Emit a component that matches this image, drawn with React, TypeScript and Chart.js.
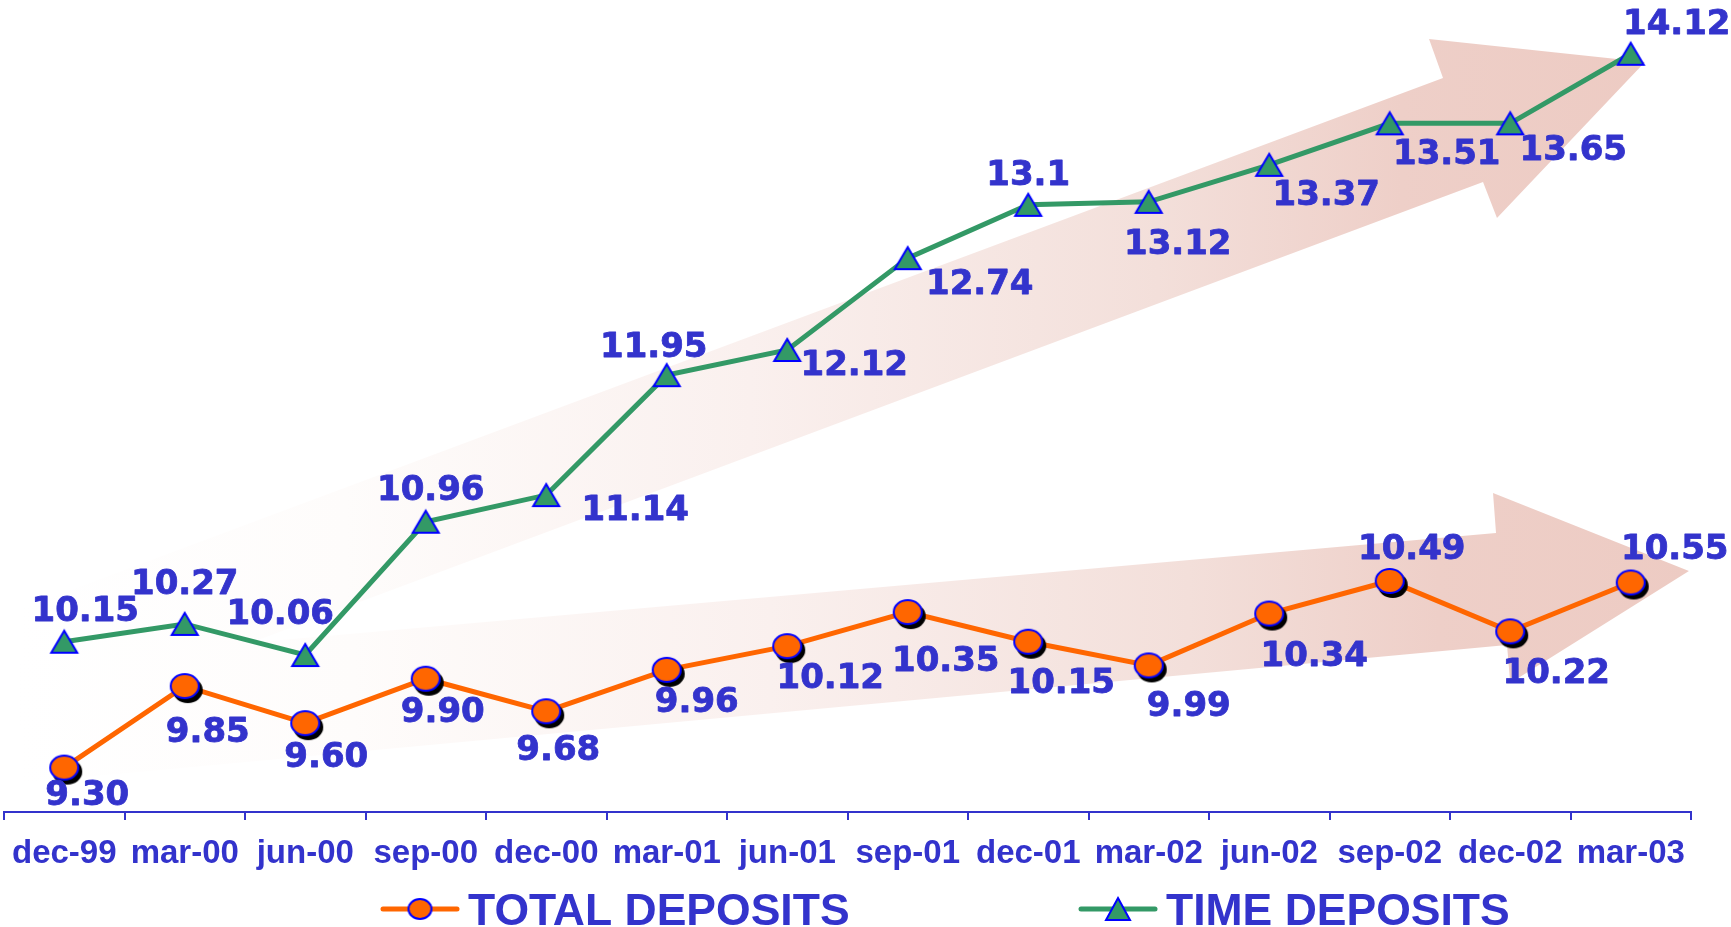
import { useEffect, useRef } from "react";
import { Chart, registerables } from "chart.js";

Chart.register(...registerables);

// ---------- data ----------
const categories = [
  "dec-99", "mar-00", "jun-00", "sep-00", "dec-00", "mar-01", "jun-01",
  "sep-01", "dec-01", "mar-02", "jun-02", "sep-02", "dec-02", "mar-03",
];
const totalDeposits = [9.3, 9.85, 9.6, 9.9, 9.68, 9.96, 10.12, 10.35, 10.15, 9.99, 10.34, 10.56, 10.22, 10.55];
const timeDeposits = [10.15, 10.27, 10.06, 10.96, 11.14, 11.95, 12.12, 12.74, 13.1, 13.12, 13.37, 13.65, 13.65, 14.12];
const totalLabels = ["9.30", "9.85", "9.60", "9.90", "9.68", "9.96", "10.12", "10.35", "10.15", "9.99", "10.34", "10.49", "10.22", "10.55"];
const timeLabels = ["10.15", "10.27", "10.06", "10.96", "11.14", "11.95", "12.12", "12.74", "13.1", "13.12", "13.37", "13.51", "13.65", "14.12"];
const seriesNames = ["TOTAL DEPOSITS", "TIME DEPOSITS"];

// ---------- label placement (px offsets from point) ----------
const totalLabelOffsets: [number, number][] = [
  [23, 25], [23, 43], [21, 31], [17, 31], [12, 36], [30, 30], [43, 29],
  [38, 47], [33, 39], [40, 38], [45, 40], [22, -34], [46, 39], [44, -36],
];
const timeLabelOffsets: [number, number][] = [
  [21, -33], [0, -42], [-25, -43], [5, -34], [89, 13], [-13, -31], [67, 13],
  [72, 23], [0, -32], [29, 40], [57, 28], [57, 28], [63, 24], [46, -32],
];

// ---------- decorative arrows in (category index, value) ----------
const upperArrow: [number, number][] = [
  [-0.367, 10.371], [11.442, 13.956], [11.326, 14.219], [13.118, 14.064],
  [11.89, 13.011], [11.774, 13.254], [-0.367, 9.56],
];
const lowerArrow: [number, number][] = [
  [-0.367, 10.006], [11.882, 10.884], [11.857, 11.154], [13.483, 10.627],
  [12.0, 9.871], [11.973, 10.128], [-0.367, 9.196],
];

const BLUE_TEXT = "#3333cc";
const ORANGE = "#ff6600";
const GREEN = "#339966";
const MARKER_EDGE = "#0000ff";

function makeEllipse(rx: number, ry: number, shadow: boolean) {
  const pad = 2;
  const sx = shadow ? 3 : 0;
  const sy = shadow ? 4 : 0;
  const w = Math.ceil(2 * (rx + sx + pad));
  const h = Math.ceil(2 * (ry + sy + pad));
  const c = document.createElement("canvas");
  c.width = w;
  c.height = h;
  const g = c.getContext("2d")!;
  const cx = w / 2;
  const cy = h / 2;
  if (shadow) {
    g.fillStyle = "#000";
    g.beginPath();
    g.ellipse(cx + sx, cy + sy, rx + 1, ry + 1, 0, 0, Math.PI * 2);
    g.fill();
  }
  g.fillStyle = ORANGE;
  g.beginPath();
  g.ellipse(cx, cy, rx, ry, 0, 0, Math.PI * 2);
  g.fill();
  g.lineWidth = 2;
  g.strokeStyle = MARKER_EDGE;
  g.stroke();
  return c;
}

function makeTriangle(hw: number, up: number, down: number) {
  const pad = 4;
  const w = Math.ceil(2 * (hw + pad));
  const h = Math.ceil(2 * (Math.max(up, down) + pad));
  const c = document.createElement("canvas");
  c.width = w;
  c.height = h;
  const g = c.getContext("2d")!;
  const cx = w / 2;
  const cy = h / 2;
  g.beginPath();
  g.moveTo(cx, cy - up);
  g.lineTo(cx + hw, cy + down);
  g.lineTo(cx - hw, cy + down);
  g.closePath();
  g.fillStyle = GREEN;
  g.fill();
  g.lineWidth = 2;
  g.strokeStyle = MARKER_EDGE;
  g.stroke();
  return c;
}

const arrowPlugin = {
  id: "bgArrows",
  beforeDatasetsDraw(chart: any) {
    const { ctx, scales } = chart;
    const xs = scales.x;
    const ys = scales.y;
    const drawArrow = (pts: [number, number][]) => {
      const px = pts.map(([i, v]) => [xs.getPixelForValue(i), ys.getPixelForValue(v)]);
      const minX = Math.min(...px.map((p) => p[0]));
      const maxX = Math.max(...px.map((p) => p[0]));
      const grad = ctx.createLinearGradient(minX, 0, maxX, 0);
      grad.addColorStop(0, "rgba(255,255,255,1)");
      grad.addColorStop(0.2, "#fefcfb");
      grad.addColorStop(0.45, "#faf0ee");
      grad.addColorStop(0.7, "#f3dfda");
      grad.addColorStop(0.85, "#eecfc8");
      grad.addColorStop(1, "#edcbc3");
      ctx.save();
      ctx.beginPath();
      px.forEach(([x, y], k) => (k === 0 ? ctx.moveTo(x, y) : ctx.lineTo(x, y)));
      ctx.closePath();
      ctx.fillStyle = grad;
      ctx.fill();
      ctx.restore();
    };
    drawArrow(upperArrow);
    drawArrow(lowerArrow);
  },
};

const labelPlugin = {
  id: "valueLabels",
  afterDatasetsDraw(chart: any) {
    const { ctx } = chart;
    const sets = [
      { labels: totalLabels, offsets: totalLabelOffsets },
      { labels: timeLabels, offsets: timeLabelOffsets },
    ];
    ctx.save();
    ctx.font = "bold 34px 'DejaVu Sans'";
    ctx.fillStyle = BLUE_TEXT;
    ctx.strokeStyle = BLUE_TEXT;
    ctx.lineWidth = 0.8;
    ctx.lineJoin = "round";
    ctx.textAlign = "center";
    ctx.textBaseline = "alphabetic";
    sets.forEach((s, di) => {
      const meta = chart.getDatasetMeta(di);
      meta.data.forEach((pt: any, i: number) => {
        const { x, y } = pt.getProps(["x", "y"], true);
        const [dx, dy] = s.offsets[i];
        ctx.fillText(s.labels[i], x + dx, y + dy + 12.4);
        ctx.strokeText(s.labels[i], x + dx, y + dy + 12.4);
      });
    });
    ctx.restore();
  },
};

let legendCircle: HTMLCanvasElement | null = null;
let legendTri: HTMLCanvasElement | null = null;
const legendItemX = [381, 1079];

const legendPlugin = {
  id: "customLegend",
  afterDraw(chart: any) {
    const { ctx } = chart;
    const items = [
      { text: seriesNames[0], color: ORANGE, marker: legendCircle },
      { text: seriesNames[1], color: GREEN, marker: legendTri },
    ];
    const lineY = 909;
    const baseY = 925;
    ctx.save();
    ctx.font = "bold 44.5px 'Liberation Sans'";
    ctx.textBaseline = "alphabetic";
    ctx.textAlign = "left";
    items.forEach((it, k) => {
      const x = legendItemX[k];
      ctx.strokeStyle = it.color;
      ctx.lineWidth = 5;
      ctx.lineCap = "round";
      ctx.beginPath();
      ctx.moveTo(x + 2, lineY);
      ctx.lineTo(x + 76, lineY);
      ctx.stroke();
      if (it.marker) {
        ctx.drawImage(it.marker, x + 39 - it.marker.width / 2, lineY - it.marker.height / 2);
      }
      ctx.fillStyle = BLUE_TEXT;
      ctx.fillText(it.text, x + 87, baseY);
    });
    ctx.restore();
  },
};

export default function App() {
  const ref = useRef<HTMLCanvasElement | null>(null);

  useEffect(() => {
    if (!ref.current) return;
    const circleImg = makeEllipse(14, 12, true);
    const triImg = makeTriangle(13, 11, 11);
    legendCircle = makeEllipse(11.5, 10, false);
    legendTri = makeTriangle(12, 11, 11);

    const chart = new Chart(ref.current, {
      type: "line",
      data: {
        labels: categories,
        datasets: [
          {
            label: seriesNames[0],
            data: totalDeposits,
            borderColor: ORANGE,
            backgroundColor: ORANGE,
            borderWidth: 5,
            pointStyle: circleImg as any,
            pointRadius: 12,
            pointHoverRadius: 12,
            tension: 0,
            fill: false,
            clip: false as any,
          },
          {
            label: seriesNames[1],
            data: timeDeposits,
            borderColor: GREEN,
            backgroundColor: GREEN,
            borderWidth: 5,
            pointStyle: triImg as any,
            pointRadius: 12,
            pointHoverRadius: 12,
            tension: 0,
            fill: false,
            clip: false as any,
          },
        ],
      },
      options: {
        responsive: false,
        animation: false,
        events: [],
        layout: { autoPadding: false, padding: { left: 4, right: 40, top: 12.3, bottom: 39.4 } },
        plugins: {
          legend: { display: false },
          tooltip: { enabled: false },
        },
        scales: {
          x: {
            offset: true,
            afterFit: (scale: any) => {
              scale.paddingLeft = 0;
              scale.paddingRight = 0;
            },
            grid: {
              offset: true,
              drawOnChartArea: false,
              drawTicks: true,
              tickLength: 8,
              color: BLUE_TEXT,
              lineWidth: 2,
            },
            border: { display: true, color: BLUE_TEXT, width: 2 },
            ticks: {
              color: BLUE_TEXT,
              font: { family: "'Liberation Sans'", size: 33, weight: "bold" },
              padding: 14,
              maxRotation: 0,
              autoSkip: false,
            },
          },
          y: { display: false, min: 9, max: 14.4 },
        },
      },
      plugins: [arrowPlugin, labelPlugin, legendPlugin],
    });
    return () => chart.destroy();
  }, []);

  return (
    <div style={{ position: "absolute", left: 0, top: 0, width: 1731, height: 927, background: "#fff" }}>
      <canvas ref={ref} width={1731} height={927} style={{ display: "block" }} />
    </div>
  );
}
